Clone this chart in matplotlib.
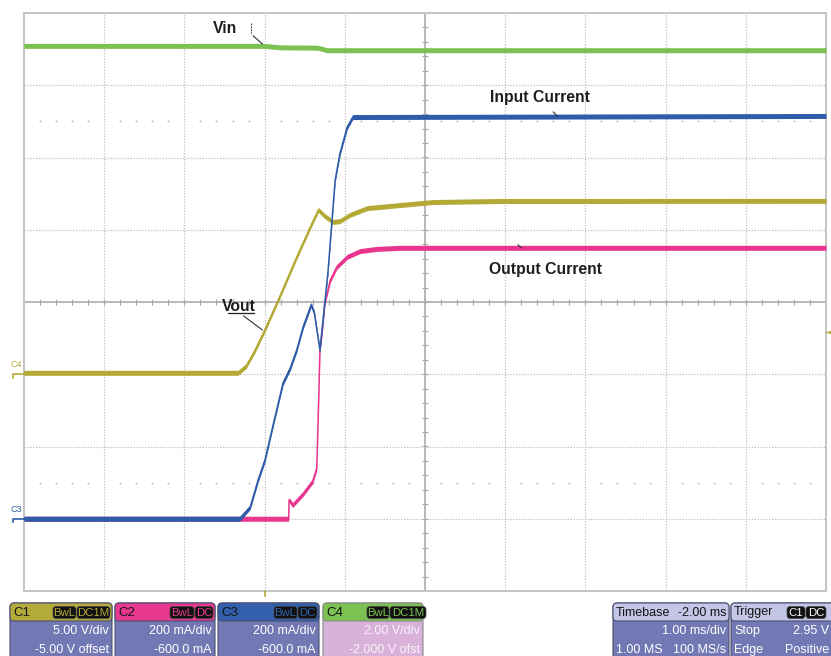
import numpy as np
import matplotlib.pyplot as plt
from matplotlib.patches import FancyBboxPatch

plt.rcParams['font.family'] = ['Liberation Sans', 'DejaVu Sans']

# ---- acquisition: time in ms, trigger at t = 0 ----
T_LEFT, T_RIGHT = -3.0, 7.0
N_DIV_Y = 4

# C1 - output voltage (V)
vout_t = [-3.0, -0.33, -0.23, -0.13, -0.01, 0.17, 0.40, 0.57, 0.67, 0.75,
          0.85, 0.94, 1.06, 1.28, 1.69, 2.10, 2.93, 7.0]
vout_v = [0.1, 0.1, 0.57, 1.54, 2.92, 5.14, 8.11, 10.19, 11.37, 10.95,
          10.54, 10.6, 11.02, 11.5, 11.71, 11.92, 11.99, 12.0]

# C2 - output current (mA)
iout_t = [-3.0, 0.30, 0.305, 0.35, 0.48, 0.60, 0.65, 0.67, 0.69, 0.72,
          0.75, 0.82, 0.90, 1.03, 1.19, 1.40, 1.69, 7.0]
iout_ma = [0, 0, 52, 38, 69, 104, 140, 293, 467, 522,
           597, 661, 697, 725, 741, 747, 750, 750]

# C3 - input current (mA)
iin_t = [-3.0, -0.31, -0.18, -0.08, 0.005, 0.10, 0.23, 0.32, 0.40, 0.48,
         0.58, 0.62, 0.69, 0.79, 0.88, 0.94, 1.03, 1.10, 7.0]
iin_ma = [0, 0, 32, 108, 163, 254, 376, 417, 467, 531,
          592, 570, 467, 683, 938, 1012, 1084, 1112, 1115]

# C4 - input voltage (V)
vin_t = [-3.0, 0.0, 0.19, 0.66, 0.78, 7.0]
vin_v = [9.09, 9.09, 9.05, 9.04, 8.97, 8.97]

# vertical scale and offset of each channel: div = (value + offset) / scale
CH = {
    'C1': dict(scale=5.0, offset=-5.0, color='#b4a935', head='#b5aa3c'),
    'C2': dict(scale=200.0, offset=-600.0, color='#e8368f', head='#e8388f'),
    'C3': dict(scale=200.0, offset=-600.0, color='#2e5ca9', head='#3360ad'),
    'C4': dict(scale=2.0, offset=-2.0, color='#7bc252', head='#7bc252'),
}

TRIG_LEVEL = 2.95  # V on C1

panel_ch = ['C1', 'C2', 'C3', 'C4']
panel_line1 = ['5.00 V/div', '200 mA/div', '200 mA/div', '2.00 V/div']
panel_line2 = ['-5.00 V offset', '-600.0 mA', '-600.0 mA', '-2.000 V ofst']
panel_badges = [['BwL', 'DC1M'], ['BwL', 'DC'], ['BwL', 'DC'], ['BwL', 'DC1M']]


def to_div(ch, values):
    c = CH[ch]
    return (np.asarray(values, dtype=float) + c['offset']) / c['scale']


fig = plt.figure(figsize=(8.31, 6.56), dpi=100)
fig.patch.set_facecolor('white')

W, H = 831, 656
ov = fig.add_axes([0, 0, 1, 1], zorder=0)
ov.set_xlim(0, W)
ov.set_ylim(H, 0)
ov.axis('off')

ax = fig.add_axes([24 / W, 65 / H, 802 / W, 578 / H], zorder=1)
ax.set_xlim(T_LEFT, T_RIGHT)
ax.set_ylim(-N_DIV_Y, N_DIV_Y)
ax.set_xticks([])
ax.set_yticks([])
for s in ax.spines.values():
    s.set_color('#c4c4c4')
    s.set_linewidth(1.4)

# graticule
t_center = 0.5 * (T_LEFT + T_RIGHT)
grid_kw = dict(color='#bdbdbd', lw=0.9, ls=(0, (1, 1.3)), zorder=1)
for gx in np.arange(T_LEFT + 1, T_RIGHT):
    if abs(gx - t_center) > 1e-9:
        ax.axvline(gx, **grid_kw)
for gy in range(-N_DIV_Y + 1, N_DIV_Y):
    if gy != 0:
        ax.axhline(gy, **grid_kw)
ax.axhline(0, color='#b2b2b2', lw=1.3, zorder=1)
ax.axvline(t_center, color='#b2b2b2', lw=1.3, zorder=1)

sub_t = np.arange(T_LEFT, T_RIGHT + 1e-9, 0.2)
sub_y = np.arange(-N_DIV_Y, N_DIV_Y + 1e-9, 0.2)
ax.plot(sub_t, np.zeros_like(sub_t), ls='none', marker='|', ms=4.5,
        mew=0.8, color='#a8a8a8', zorder=1)
ax.plot(np.full_like(sub_y, t_center), sub_y, ls='none', marker='_', ms=4.5,
        mew=0.8, color='#a8a8a8', zorder=1)
minor = np.array([t for t in sub_t if abs(t - round(t)) > 1e-6])
for ry in (2.5, -2.5):
    ax.plot(minor, np.full_like(minor, ry), ls='none', marker='s', ms=1.2,
            color='#b8b8b8', mew=0, zorder=1)

# traces: vertical band mimics the sampled noise of the scope
band = 2.5 / 72.25
traces = [('C4', vin_t, vin_v), ('C1', vout_t, vout_v),
          ('C2', iout_t, iout_ma), ('C3', iin_t, iin_ma)]
for z, (ch, t, v) in enumerate(traces):
    d = to_div(ch, v)
    col = CH[ch]['color']
    ax.fill_between(t, d - band, d + band, color=col, lw=0, zorder=3 + z)
    ax.plot(t, d, color=col, lw=1.1, zorder=3 + z)

# channel ground markers on the left edge
for label, ch, lab_col in [('C4', 'C1', '#b4a935'), ('C3', 'C3', '#2e5ca9')]:
    lvl = to_div(ch, 0.0)
    ax.plot([T_LEFT - 0.14, T_LEFT - 0.14, T_LEFT],
            [lvl - 0.05, lvl, lvl], color=CH[ch]['color'], lw=1.2,
            clip_on=False, zorder=8)
    ax.text(T_LEFT - 0.17, lvl + 0.13, label, color=lab_col, fontsize=6.5,
            ha='left', va='center', clip_on=False)

# trigger markers
trig_div = to_div('C1', TRIG_LEVEL)
ax.plot([T_RIGHT + 0.06], [trig_div], marker='<', ms=3.5,
        color=CH['C1']['color'], clip_on=False, zorder=8)
ax.plot([T_RIGHT, T_RIGHT + 0.06], [trig_div, trig_div],
        color=CH['C1']['color'], lw=1, clip_on=False, zorder=8)
ax.plot([0, 0], [-N_DIV_Y, -N_DIV_Y - 0.07], color=CH['C1']['color'],
        lw=1.2, clip_on=False, zorder=8)

# trace annotations
lab_kw = dict(fontsize=11.3, fontweight='bold', color='#1e1e1e', zorder=10)
vin0 = to_div('C4', vin_v[0])
ax.text(-0.64, 3.79, 'Vin', ha='left', va='center', **lab_kw)
ax.plot([-0.17, -0.17], [3.86, 3.73], color='#333333', lw=0.7, ls=(0, (2, 1)),
        zorder=10)
ax.annotate('', xy=(0.0, vin0), xytext=(-0.17, 3.71),
            arrowprops=dict(arrowstyle='-', color='#333333', lw=0.8))

ax.text(-0.53, -0.06, 'Vout', ha='left', va='center', **lab_kw)
ax.plot([-0.46, -0.13], [-0.155, -0.155], color='#1e1e1e', lw=0.9, zorder=10)
ax.annotate('', xy=(0.0, trig_div), xytext=(-0.29, -0.17),
            arrowprops=dict(arrowstyle='-', color='#333333', lw=0.8))

ax.text(2.81, 2.83, 'Input Current', ha='left', va='center', **lab_kw)
ax.plot([3.6, 3.65], [2.63, 2.57], color='#333333', lw=0.8, zorder=10)
ax.text(2.80, 0.455, 'Output Current', ha='left', va='center', **lab_kw)
ax.plot([3.16, 3.20], [0.79, 0.75], color='#333333', lw=0.8, zorder=10)

# ---- info panels under the grid ----
narrow = ['Liberation Sans Narrow', 'Liberation Sans', 'DejaVu Sans']
BODY = '#7278b3'
Y0, HEAD_H = 603, 18
ROW1, ROW2 = 631, 650


def badge(x0, x1, text, fg, bg='#111111'):
    ov.add_patch(FancyBboxPatch((x0, Y0 + 3.5), x1 - x0, 12,
                                boxstyle='round,pad=0,rounding_size=3',
                                fc=bg, ec='#444444', lw=0.5, zorder=4))
    ov.text(0.5 * (x0 + x1), Y0 + 9.8, text, color=fg, fontsize=8.2,
            ha='center', va='center', family=narrow, zorder=5)


def panel(x0, x1, head, body, edge='#4d5070'):
    ov.add_patch(FancyBboxPatch((x0, Y0), x1 - x0, 70,
                                boxstyle='round,pad=0,rounding_size=4',
                                fc=body, ec=edge, lw=0.8, zorder=2))
    ov.add_patch(FancyBboxPatch((x0, Y0), x1 - x0, HEAD_H,
                                boxstyle='round,pad=0,rounding_size=4',
                                fc=head, ec=edge, lw=0.8, zorder=3))


ch_x = [(10, 112), (115, 215), (218, 319), (323, 423)]
ch_badges_x = [[(53, 76), (77, 110)], [(170, 194), (195, 213)],
               [(274, 297), (298, 317)], [(367, 389), (390, 426)]]
for i, ch in enumerate(panel_ch):
    x0, x1 = ch_x[i]
    body = '#d8b2d8' if ch == 'C4' else BODY
    edge = '#8a8a8a' if ch == 'C4' else '#4d5070'
    panel(x0, x1, CH[ch]['head'], body, edge)
    ov.text(x0 + 3, Y0 + 9.5, ch, color='#151515', fontsize=9.5,
            ha='left', va='center', family=narrow, zorder=5)
    for (bx0, bx1), bt in zip(ch_badges_x[i], panel_badges[i]):
        badge(bx0, bx1, bt, CH[ch]['head'])
    txt_col = '#fbf3fb' if ch == 'C4' else 'white'
    ov.text(x1 - 3, ROW1, panel_line1[i], color=txt_col, fontsize=9,
            ha='right', va='center', family=narrow, zorder=5)
    ov.text(x1 - 3, ROW2, panel_line2[i], color=txt_col, fontsize=9,
            ha='right', va='center', family=narrow, zorder=5)

# timebase and trigger panels
panel(613, 729, '#c3c6e6', BODY)
ov.text(616, Y0 + 9.5, 'Timebase', color='#151515', fontsize=9,
        ha='left', va='center', family=narrow, zorder=5)
ov.text(726, Y0 + 9.5, '-2.00 ms', color='#151515', fontsize=9,
        ha='right', va='center', family=narrow, zorder=5)
ov.text(726, ROW1, '1.00 ms/div', color='white', fontsize=9,
        ha='right', va='center', family=narrow, zorder=5)
ov.text(616, ROW2, '1.00 MS', color='white', fontsize=9,
        ha='left', va='center', family=narrow, zorder=5)
ov.text(726, ROW2, '100 MS/s', color='white', fontsize=9,
        ha='right', va='center', family=narrow, zorder=5)

panel(731, 840, '#c3c6e6', BODY)
ov.text(734, Y0 + 9.5, 'Trigger', color='#151515', fontsize=9,
        ha='left', va='center', family=narrow, zorder=5)
badge(787, 805, 'C1', 'white')
badge(806, 826, 'DC', 'white')
ov.text(734, ROW1, 'Stop', color='white', fontsize=9,
        ha='left', va='center', family=narrow, zorder=5)
ov.text(829, ROW1, f'{TRIG_LEVEL:.2f} V', color='white', fontsize=9,
        ha='right', va='center', family=narrow, zorder=5)
ov.text(734, ROW2, 'Edge', color='white', fontsize=9,
        ha='left', va='center', family=narrow, zorder=5)
ov.text(829, ROW2, 'Positive', color='white', fontsize=9,
        ha='right', va='center', family=narrow, zorder=5)

fig.savefig('out.png', dpi=100)
